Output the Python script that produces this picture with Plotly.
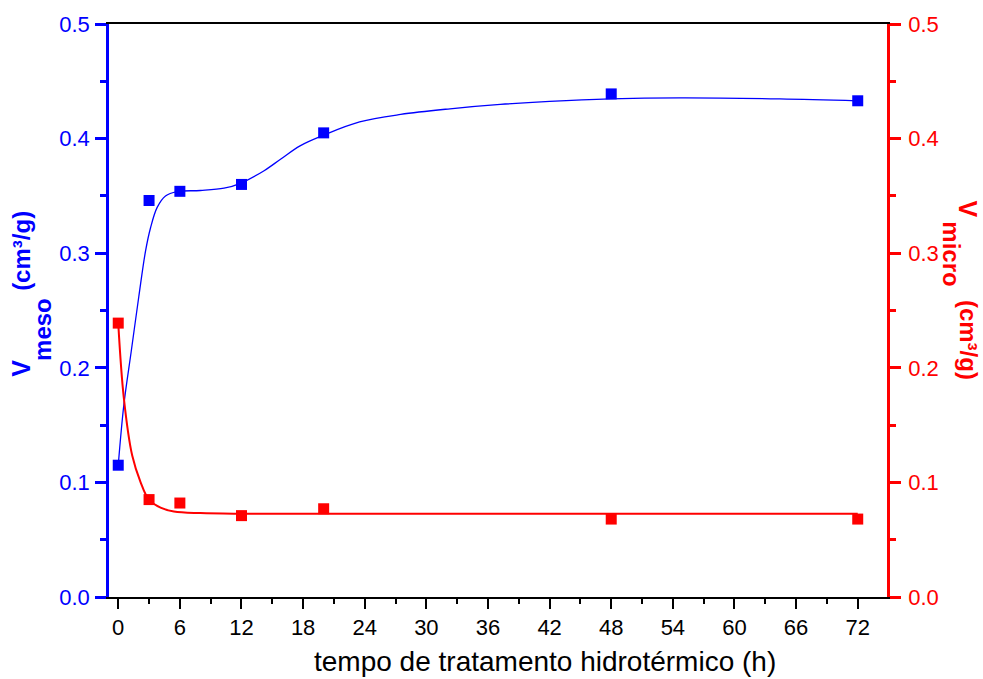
import plotly.graph_objects as go

# measured data (hours, cm3/g)
t_points = [0, 3, 6, 12, 20, 48, 72]
v_meso = [0.115, 0.346, 0.354, 0.360, 0.405, 0.439, 0.433]
v_micro = [0.239, 0.085, 0.082, 0.071, 0.077, 0.068, 0.068]

# fitted curves
meso_fit_t = [0, 0.55, 1.26, 2.0, 2.66, 3.14, 3.79, 4.6, 5.74, 8.0, 10.3, 11.9,
              14.2, 15.8, 17.7, 20.0, 23.5, 27.5, 32.3, 37.2, 42.0, 47.9, 54.7, 64.4, 72.0]
meso_fit_v = [0.115, 0.168, 0.214, 0.262, 0.302, 0.322, 0.340, 0.350, 0.3538, 0.3547,
              0.3567, 0.3610, 0.372, 0.382, 0.3937, 0.403, 0.4145, 0.4211, 0.426, 0.4298,
              0.4325, 0.4347, 0.4356, 0.4347, 0.433]
micro_fit_t = [0, 0.54, 1.36, 2.17, 2.98, 4.12, 5.42, 8.0, 12.0, 20.0, 40.0, 72.0]
micro_fit_v = [0.239, 0.174, 0.1234, 0.1003, 0.085, 0.078, 0.0746, 0.0732, 0.0727,
               0.0726, 0.0726, 0.0726]

x_ticks = list(range(0, 73, 6))

BLUE = "#0000FF"
RED = "#FF0000"
FONT = "Arial, Liberation Sans, sans-serif"

LEFT = 108.5
RIGHT = 96
TOP = 21
BOT = 82
PW = 983 - LEFT - RIGHT
PH = 679 - TOP - BOT

fig = go.Figure()
fig.add_trace(go.Scatter(x=meso_fit_t, y=meso_fit_v, mode="lines",
                         line=dict(color=BLUE, width=1.3, shape="spline", smoothing=1.0),
                         hoverinfo="skip", showlegend=False))
fig.add_trace(go.Scatter(x=micro_fit_t, y=micro_fit_v, mode="lines", yaxis="y2",
                         line=dict(color=RED, width=2, shape="spline", smoothing=1.0),
                         hoverinfo="skip", showlegend=False))
fig.add_trace(go.Scatter(x=t_points, y=v_meso, mode="markers",
                         marker=dict(symbol="square", size=11, color=BLUE),
                         showlegend=False))
fig.add_trace(go.Scatter(x=t_points, y=v_micro, mode="markers", yaxis="y2",
                         marker=dict(symbol="square", size=11, color=RED),
                         showlegend=False))

fig.update_layout(
    width=983, height=679,
    margin=dict(l=LEFT, r=RIGHT, t=TOP, b=BOT),
    plot_bgcolor="white", paper_bgcolor="white",
    font=dict(family=FONT),
    xaxis=dict(range=[-0.9, 74.85], tickmode="array", tickvals=x_ticks,
               ticks="outside", ticklen=10, tickwidth=2, tickcolor="black",
               minor=dict(dtick=3, tick0=0, ticks="outside", ticklen=5, tickwidth=2, tickcolor="black"),
               showline=True, linecolor="black", linewidth=2, mirror=True,
               showgrid=False, zeroline=False,
               tickfont=dict(size=22, color="black", family=FONT)),
    yaxis=dict(range=[0, 0.5], dtick=0.1, tick0=0, tickformat=".1f",
               ticks="outside", ticklen=11, tickwidth=2.5, tickcolor=BLUE,
               minor=dict(dtick=0.05, ticks="outside", ticklen=6, tickwidth=2.5, tickcolor=BLUE),
               showline=True, linecolor=BLUE, linewidth=2.5,
               showgrid=False, zeroline=False, ticklabelstandoff=1,
               tickfont=dict(size=22, color=BLUE, family=FONT)),
    yaxis2=dict(range=[0, 0.5], dtick=0.1, tick0=0, tickformat=".1f",
                overlaying="y", side="right",
                ticks="outside", ticklen=11, tickwidth=2.5, tickcolor=RED,
                minor=dict(dtick=0.05, ticks="outside", ticklen=6, tickwidth=2.5, tickcolor=RED),
                showline=True, linecolor=RED, linewidth=2.5,
                showgrid=False, zeroline=False, ticklabelstandoff=3,
                tickfont=dict(size=22, color=RED, family=FONT)),
)


def px(xp):
    return (xp - LEFT) / PW


def py(yp):
    return (679 - BOT - yp) / PH


ann = []
ann.append(dict(text="tempo de tratamento hidrotérmico (h)", x=px(544.5), y=py(662),
                font=dict(size=28, color="black", family=FONT)))
# left title pieces (rotated -90)
ann.append(dict(text="<b>V</b>", x=px(21), y=py(367), textangle=-90,
                font=dict(size=25, color=BLUE, family=FONT)))
ann.append(dict(text="<b>meso</b>", x=px(42), y=py(328), textangle=-90,
                font=dict(size=24, color=BLUE, family=FONT)))
ann.append(dict(text="<b>(cm³/g)</b>", x=px(21.5), y=py(249), textangle=-90,
                font=dict(size=24, color=BLUE, family=FONT)))
# right title pieces (rotated 90)
ann.append(dict(text="<b>V</b>", x=px(969), y=py(207.5), textangle=90,
                font=dict(size=25, color=RED, family=FONT)))
ann.append(dict(text="<b>micro</b>", x=px(952), y=py(252.5), textangle=90,
                font=dict(size=24, color=RED, family=FONT)))
ann.append(dict(text="<b>(cm³/g)</b>", x=px(968.5), y=py(339), textangle=90,
                font=dict(size=24, color=RED, family=FONT)))
for a in ann:
    a.update(xref="paper", yref="paper", xanchor="center", yanchor="middle", showarrow=False)
fig.update_layout(annotations=ann)

fig.write_html("out.html")
